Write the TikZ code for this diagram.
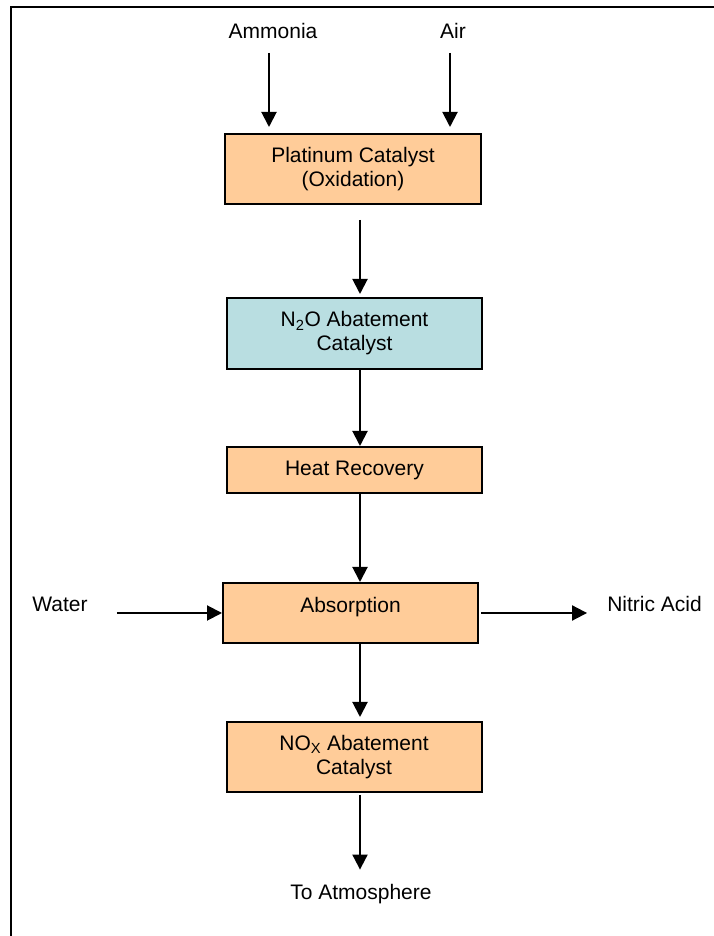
\documentclass[tikz,border=0pt]{standalone}
\usepackage{fontspec}
\setmainfont{Liberation Sans}
\usetikzlibrary{arrows.meta}
\definecolor{boxorange}{RGB}{255,204,153}
\definecolor{boxblue}{RGB}{185,222,225}
\begin{document}
\begin{tikzpicture}[x=1pt, y=1pt,
  every node/.style={font=\fontsize{21}{24}\selectfont, inner sep=0pt},
  lbl/.style={anchor=base},
  box/.style={draw, line width=2pt, minimum width=255pt, align=center},
  flow/.style={draw, line width=2pt, -{Triangle[width=15pt,length=15pt]}}]
  \useasboundingbox (0,0) rectangle (714,936);
  \draw[line width=2pt] (11,0) -- (11,929) -- (714,929);
  \coordinate (mid) at (360,0);
  % inputs
  \node[lbl] (ammonia) at (273,897) {Ammonia};
  \node[lbl] (air) at (453,897) {Air};
  \node[lbl] (water) at (60,324) {Water};
  \node[lbl] (nitric) at (654.5,324) {Nitric Acid};
  \node[lbl] (atmos) at (361,36) {To Atmosphere};
  % process steps
  \node[box, fill=boxorange, minimum width=256pt, minimum height=70pt] (plat) at (353,767)
    {Platinum Catalyst\\(Oxidation)};
  \node[box, fill=boxblue, minimum height=71pt] (ntwoo) at (354.5,602.5)
    {N\textsubscript{2}O Abatement\\Catalyst};
  \node[box, fill=boxorange, minimum height=46pt] (heat) at (354.5,466) {Heat Recovery};
  \node[box, fill=boxorange, minimum height=60pt, text height=15pt, text depth=15pt] (absorb) at (350.5,323)
    {Absorption};
  \node[box, fill=boxorange, minimum height=70pt] (nox) at (354,179)
    {NO\textsubscript{X} Abatement\\Catalyst};
  % streams
  \draw[flow, shorten <=14pt, shorten >=6pt] ([xshift=-4pt]ammonia.base) -- ([xshift=-4pt]ammonia.base |- plat.north);
  \draw[flow, shorten <=14pt, shorten >=6pt] ([xshift=-3pt]air.base) -- ([xshift=-3pt]air.base |- plat.north);
  \draw[flow, shorten <=15pt, shorten >=3pt] (plat.south -| mid) -- (ntwoo.north -| mid);
  \draw[flow] (ntwoo.south -| mid) -- (heat.north -| mid);
  \draw[flow] (heat.south -| mid) -- (absorb.north -| mid);
  \draw[flow] (water.east |- absorb.west) ++(29,0) -- (absorb.west);
  \draw[flow, shorten <=2pt, shorten >=20pt] (absorb.east) -- (nitric.west |- absorb.east);
  \draw[flow, shorten >=4pt] (absorb.south -| mid) -- (nox.north -| mid);
  \draw[flow, shorten <=2pt, shorten >=15pt] (nox.south -| mid) -- (atmos.north -| mid);
\end{tikzpicture}
\end{document}
